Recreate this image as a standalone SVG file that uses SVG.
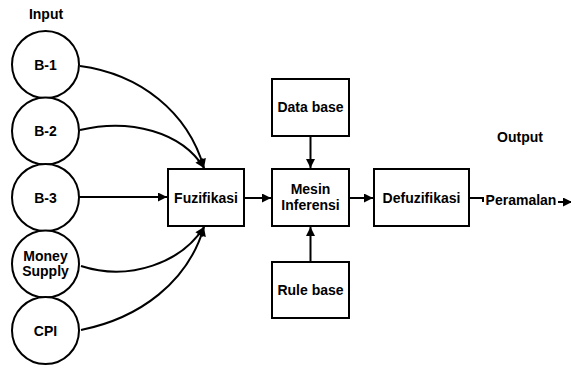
<svg xmlns="http://www.w3.org/2000/svg" width="571" height="365" viewBox="0 0 571 365">
<style>
text{font-family:"Liberation Sans",Arial,sans-serif;font-weight:bold;font-size:14px;fill:#000;text-anchor:middle}
.n{fill:#fff;stroke:#000;stroke-width:2}
.c{fill:none;stroke:#000;stroke-width:2}
</style>
<defs>
<marker id="ah" viewBox="0 0 10 10" refX="10" refY="5" markerWidth="5" markerHeight="4.5" markerUnits="strokeWidth" orient="auto">
<path d="M0,0 L10,5 L0,10 z" fill="#000"/>
</marker>
</defs>
<rect width="571" height="365" fill="#fff"/>
<text x="46" y="19">Input</text>
<text x="520" y="142">Output</text>
<g id="connectors">
<path class="c" d="M80,66 C140,74 188,112 204,168" marker-end="url(#ah)"/>
<path class="c" d="M80,130 C130,118 182,132 204,168" marker-end="url(#ah)"/>
<path class="c" d="M79,197 L167,197" marker-end="url(#ah)"/>
<path class="c" d="M81,266 C130,282 182,262 204,227" marker-end="url(#ah)"/>
<path class="c" d="M81,330 C140,318 188,282 204,227" marker-end="url(#ah)"/>
<path class="c" d="M244,198 L271,198" marker-end="url(#ah)"/>
<path class="c" d="M349,198 L373,198" marker-end="url(#ah)"/>
<path class="c" d="M310.5,136 L310.5,168" marker-end="url(#ah)"/>
<path class="c" d="M310.5,262 L310.5,227" marker-end="url(#ah)"/>
<path class="c" d="M469,198 L483,198 L483,202"/>
<path class="c" d="M558,202 L572,202" marker-end="url(#ah)"/>
</g>
<g id="b1"><circle class="n" cx="45.5" cy="64.5" r="33.5"/><text x="45.5" y="69.5">B-1</text></g>
<g id="b2"><circle class="n" cx="45.5" cy="131" r="33.5"/><text x="45.5" y="136">B-2</text></g>
<g id="b3"><circle class="n" cx="45.5" cy="197.5" r="33.5"/><text x="45.5" y="202.5">B-3</text></g>
<g id="money"><circle class="n" cx="45.5" cy="264" r="33.5"/><text x="45.5" y="261">Money</text><text x="45.5" y="276">Supply</text></g>
<g id="cpi"><circle class="n" cx="45.5" cy="330.5" r="33.5"/><text x="45.5" y="335.5">CPI</text></g>
<g id="fuzifikasi"><rect class="n" x="168" y="169" width="76" height="57"/><text x="206" y="202.5">Fuzifikasi</text></g>
<g id="mesin"><rect class="n" x="272" y="169" width="77" height="57"/><text x="310.5" y="193.5">Mesin</text><text x="310.5" y="210">Inferensi</text></g>
<g id="database"><rect class="n" x="272" y="79" width="77" height="57"/><text x="310.5" y="112">Data base</text></g>
<g id="rulebase"><rect class="n" x="272" y="262" width="77" height="56"/><text x="310.5" y="294.5">Rule base</text></g>
<g id="defuzifikasi"><rect class="n" x="374" y="169" width="95" height="57"/><text x="421.5" y="202.5">Defuzifikasi</text></g>
<g id="peramalan"><text x="521" y="205">Peramalan</text></g>
</svg>
